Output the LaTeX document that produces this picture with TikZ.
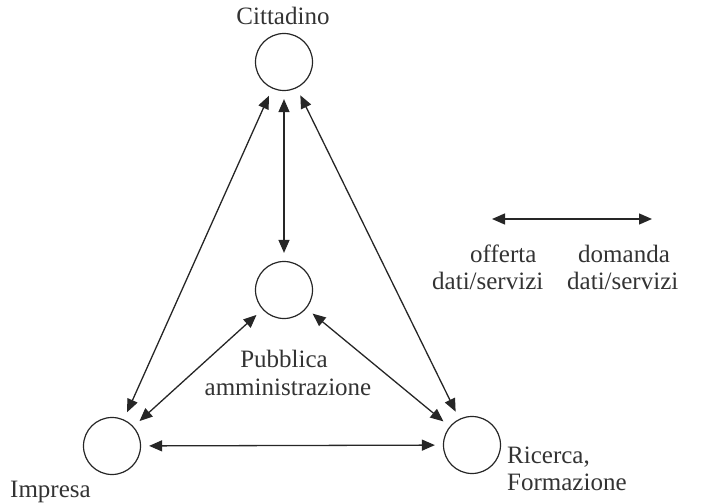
\documentclass[tikz,border=0pt]{standalone}
\usepackage{fontspec}
\setmainfont{Liberation Serif}
\usetikzlibrary{arrows.meta}
\begin{document}
\begin{tikzpicture}[x=1pt,y=-1pt,
  actor/.style={circle,draw=black!85,line width=1.2pt,minimum size=57pt,inner sep=0pt},
  lbl/.style={inner sep=0pt,font=\fontsize{25}{27}\selectfont,text=black!80},
  biarrow/.style={line width=1.3pt,draw=black!85,{Triangle[length=13pt,width=11pt]}-{Triangle[length=13pt,width=11pt]},shorten >=8pt,shorten <=8pt}
]
\useasboundingbox (0,0) rectangle (705,503);
\node[actor] (cit) at (284,62) {};
\node[actor] (pa) at (284,290) {};
\node[actor] (imp) at (112,446) {};
\node[actor] (ric) at (472,445) {};
\node[lbl,anchor=base] (lcit) at (283,25) {Cittadino};
\node[lbl,anchor=base] (lpa1) at (284,367) {Pubblica};
\node[lbl,anchor=base] (lpa2) at (288,395) {amministrazione};
\node[lbl,anchor=base west] (limp) at (10,497) {Impresa};
\node[lbl,anchor=base west] (lric1) at (507,463) {Ricerca,};
\node[lbl,anchor=base west] (lric2) at (507,490) {Formazione};
\draw[biarrow] (cit) -- (pa);
\draw[biarrow] (cit) -- (imp);
\draw[biarrow] (cit) -- (ric);
\draw[biarrow] (pa) -- (imp);
\draw[biarrow] (pa) -- (ric);
\draw[biarrow] (imp) -- (ric);
\coordinate (la) at (492,219);
\coordinate (lb) at (652,219);
\draw[biarrow,shorten >=0pt,shorten <=0pt] (la) -- (lb);
\node[lbl,anchor=base west] (loff1) at (470,262) {offerta};
\node[lbl,anchor=base west] (loff2) at (432,289) {dati/servizi};
\node[lbl,anchor=base west] (ldom1) at (578,262) {domanda};
\node[lbl,anchor=base west] (ldom2) at (567,289) {dati/servizi};
\end{tikzpicture}
\end{document}
